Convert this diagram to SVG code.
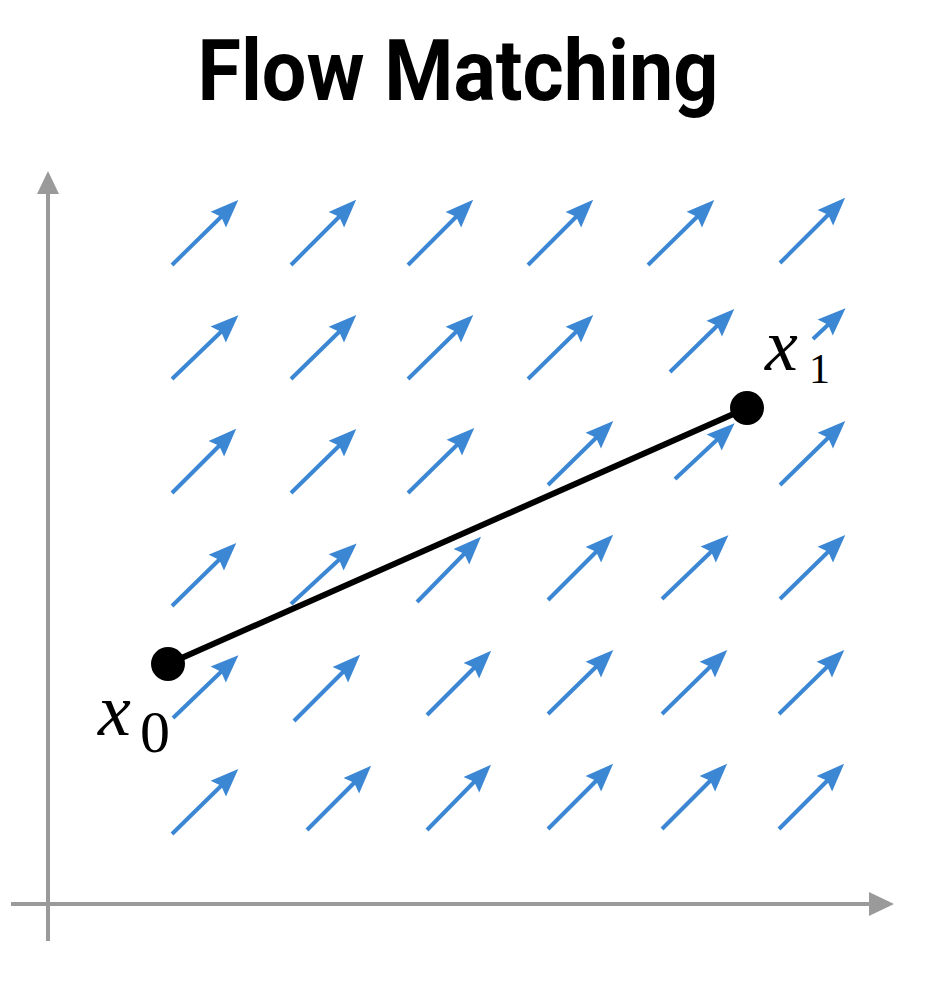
<svg xmlns="http://www.w3.org/2000/svg" width="949" height="981" viewBox="0 0 949 981">
<style>
.title{font-family:Roboto,"Liberation Sans",sans-serif;font-weight:700;font-size:85px;fill:#000}
.axis{stroke:#9a9a9a;stroke-width:4;fill:none}
.axhead{fill:#9a9a9a}
.vec{stroke:#3b87d4;stroke-width:4;stroke-linecap:butt;fill:none;marker-end:url(#bh)}
.path{stroke:#000;stroke-width:6;fill:none;stroke-linecap:round}
.math{font-family:"Liberation Serif","DejaVu Serif",serif;fill:#000}
</style>
<defs>
<marker id="bh" markerUnits="userSpaceOnUse" markerWidth="40" markerHeight="30" viewBox="-10 -15 40 30" refX="0" refY="0" orient="auto">
<path d="M20,0 L-8,-11 L-4,0 L-8,11 Z" fill="#3b87d4"/>
</marker>
</defs>
<rect width="949" height="981" fill="#fff"/>
<text class="title" x="458" y="100" text-anchor="middle" textLength="521" lengthAdjust="spacingAndGlyphs">Flow Matching</text>
<g id="axes">
<line class="axis" x1="48" y1="192" x2="48" y2="941"/>
<polygon class="axhead" points="48,171 37,194 59,194"/>
<line class="axis" x1="11" y1="904" x2="872" y2="904"/>
<polygon class="axhead" points="894,904 869,892 869,916"/>
</g>
<g id="connectors">
<path class="vec" d="M172,265 L224,214"/>
<path class="vec" d="M291,265 L342,214"/>
<path class="vec" d="M408,265 L459,214"/>
<path class="vec" d="M528,265 L579,214"/>
<path class="vec" d="M648,265 L700,214"/>
<path class="vec" d="M780,263 L831,212"/>
<path class="vec" d="M172,379 L224,329"/>
<path class="vec" d="M291,379 L342,329"/>
<path class="vec" d="M408,379 L459,329"/>
<path class="vec" d="M528,379 L579,329"/>
<path class="vec" d="M670,372 L720,323"/>
<path class="vec" d="M813,339 L831,322"/>
<path class="vec" d="M172,493 L222,443"/>
<path class="vec" d="M291,493 L342,443"/>
<path class="vec" d="M408,493 L460,442"/>
<path class="vec" d="M548,485 L599,435"/>
<path class="vec" d="M675,479 L720,437"/>
<path class="vec" d="M780,485 L831,435"/>
<path class="vec" d="M172,606 L222,557"/>
<path class="vec" d="M291,604 L342,557"/>
<path class="vec" d="M417,602 L467,551"/>
<path class="vec" d="M548,600 L599,549"/>
<path class="vec" d="M662,599 L714,549"/>
<path class="vec" d="M780,599 L831,549"/>
<path class="vec" d="M173,718 L224,669"/>
<path class="vec" d="M294,721 L346,669"/>
<path class="vec" d="M427,715 L477,665"/>
<path class="vec" d="M548,714 L599,664"/>
<path class="vec" d="M662,714 L713,664"/>
<path class="vec" d="M779,714 L830,664"/>
<path class="vec" d="M172,834 L224,783"/>
<path class="vec" d="M307,830 L357,780"/>
<path class="vec" d="M427,830 L477,779"/>
<path class="vec" d="M548,829 L599,778"/>
<path class="vec" d="M662,829 L713,778"/>
<path class="vec" d="M779,829 L830,778"/>
<line class="path" x1="168" y1="664" x2="747" y2="408"/>
</g>
<g id="x0">
<circle cx="168" cy="664" r="17" fill="#000"/>
<text class="math" x="98" y="735" font-size="74" font-style="italic">x</text>
<text class="math" x="140" y="752" font-size="60">0</text>
</g>
<g id="x1">
<circle cx="747" cy="408" r="17" fill="#000"/>
<text class="math" x="765" y="370" font-size="74" font-style="italic">x</text>
<text class="math" x="809" y="383" font-size="42">1</text>
</g>
</svg>
